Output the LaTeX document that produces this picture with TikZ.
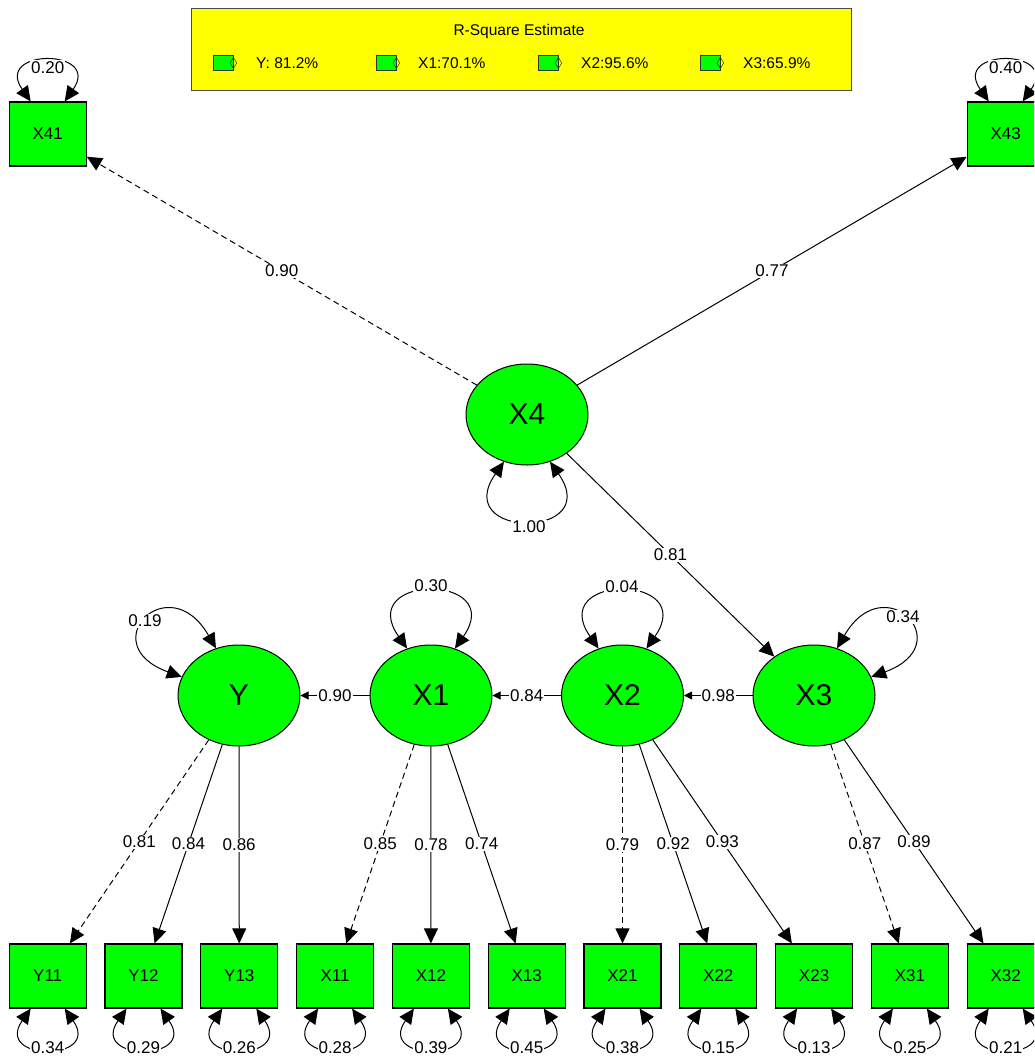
\documentclass[tikz,border=0pt]{standalone}
\usepackage{fontspec}
\setmainfont{Liberation Sans}
\usetikzlibrary{arrows.meta,shapes.geometric}
\definecolor{nodegreen}{RGB}{0,255,0}
\definecolor{legendyellow}{RGB}{255,255,0}

\begin{document}
\begin{tikzpicture}[x=1pt,y=-1pt,
  manifest/.style={draw=black, line width=1.2pt, fill=nodegreen,
    minimum width=77pt, minimum height=64pt, inner sep=0pt,
    font=\fontsize{17}{19}\selectfont},
  latent/.style={ellipse, draw=black, line width=1pt, fill=nodegreen,
    minimum width=122pt, minimum height=101pt, inner sep=0pt,
    font=\fontsize{30}{32}\selectfont},
  bigtip/.style={-{Triangle[length=15pt,width=14pt]}},
  loading/.style={line width=1pt, bigtip},
  fixedload/.style={line width=1pt, bigtip, dash pattern=on 6pt off 4pt},
  regress/.style={line width=1pt, -{Triangle[length=8pt,width=8pt]}},
  varloop/.style={line width=1pt,
    {Triangle[length=15pt,width=14pt]}-{Triangle[length=15pt,width=14pt]}},
  est/.style={fill=white, inner sep=1pt, text=black,
    font=\fontsize{17}{19}\selectfont},
  legtext/.style={anchor=west, inner sep=0pt, font=\fontsize{15.5}{17}\selectfont},
  legkey/.style={draw=black!80, line width=0.8pt, fill=nodegreen,
    minimum width=20pt, minimum height=15pt, inner sep=0pt},
  legmark/.style={diamond, draw=black!80, line width=0.5pt,
    minimum width=7pt, minimum height=11pt, inner sep=0pt}
]
\useasboundingbox (0,0) rectangle (1034,1057);
\clip (0,0) rectangle (1034,1057);

% ---------- legend ----------
\node[draw=black!70, line width=0.8pt, fill=legendyellow, minimum width=660pt,
      minimum height=82pt, inner sep=0pt] (legend) at (521,49) {};
\node[font=\fontsize{15.5}{17}\selectfont, inner sep=0pt] (legtitle) at (519,31) {R-Square Estimate};
\node[legkey] (kY)  at (223,63) {};
\node[legkey] (kX1) at (386,63) {};
\node[legkey] (kX2) at (548,63) {};
\node[legkey] (kX3) at (710,63) {};
\node[legmark] (mY)  at (kY.east)  {};
\node[legmark] (mX1) at (kX1.east) {};
\node[legmark] (mX2) at (kX2.east) {};
\node[legmark] (mX3) at (kX3.east) {};
\node[legtext] (tY)  at (256,63) {Y: 81.2\%};
\node[legtext] (tX1) at (418,63) {X1:70.1\%};
\node[legtext] (tX2) at (581,63) {X2:95.6\%};
\node[legtext] (tX3) at (743,63) {X3:65.9\%};

% ---------- latent variables ----------
\node[latent] (X4) at (527,414.5) {X4};
\node[latent] (Y)  at (239,695.5) {Y};
\node[latent] (X1) at (431,695.5) {X1};
\node[latent] (X2) at (622.5,695.5) {X2};
\node[latent] (X3) at (814,695.5) {X3};

% ---------- indicators ----------
\node[manifest] (X41) at (47.7,134) {X41};
\node[manifest] (X43) at (1005.7,134) {X43};
\node[manifest] (Y11) at (47.7,976) {Y11};
\node[manifest] (Y12) at (143.5,976) {Y12};
\node[manifest] (Y13) at (239.3,976) {Y13};
\node[manifest] (X11) at (335.1,976) {X11};
\node[manifest] (X12) at (430.9,976) {X12};
\node[manifest] (X13) at (526.7,976) {X13};
\node[manifest] (X21) at (622.5,976) {X21};
\node[manifest] (X22) at (718.3,976) {X22};
\node[manifest] (X23) at (814.1,976) {X23};
\node[manifest] (X31) at (909.9,976) {X31};
\node[manifest] (X32) at (1005.7,976) {X32};

% ---------- loadings of X4 ----------
\draw[fixedload] (X4) -- node[est] {0.90} (X41);
\draw[loading]   (X4) -- node[est] {0.77} (X43);
\draw[loading]   (X4) -- node[est] {0.81} (X3);

% ---------- structural paths ----------
\draw[regress] (X1) -- node[est] {0.90} (Y);
\draw[regress] (X2) -- node[est] {0.84} (X1);
\draw[regress] (X3) -- node[est] {0.98} (X2);

% ---------- measurement loadings ----------
\draw[fixedload] (Y)  -- node[est] {0.81} (Y11);
\draw[loading]   (Y)  -- node[est] {0.84} (Y12);
\draw[loading]   (Y)  -- node[est] {0.86} (Y13);
\draw[fixedload] (X1) -- node[est] {0.85} (X11);
\draw[loading]   (X1) -- node[est] {0.78} (X12);
\draw[loading]   (X1) -- node[est] {0.74} (X13);
\draw[fixedload] (X2) -- node[est] {0.79} (X21);
\draw[loading]   (X2) -- node[est] {0.92} (X22);
\draw[loading]   (X2) -- node[est] {0.93} (X23);
\draw[fixedload] (X3) -- node[est] {0.87} (X31);
\draw[loading]   (X3) -- node[est] {0.89} (X32);

% ---------- variances of the latent variables ----------
\draw[varloop] (X4.244) .. controls +(235:95pt) and +(305:95pt) .. (X4.296);
\node[est] (vX4) at (529,527) {1.00};
\draw[varloop] (Y.162) .. controls +(160:95pt) and +(120:95pt) .. (Y.116);
\node[est] (vY) at (145,621) {0.19};
\draw[varloop] (X1.117) .. controls +(125:92pt) and +(55:92pt) .. (X1.63);
\node[est] (vX1) at (431,586) {0.30};
\draw[varloop] (X2.117) .. controls +(125:92pt) and +(55:92pt) .. (X2.63);
\node[est] (vX2) at (622,587) {0.04};
\draw[varloop] (X3.64) .. controls +(60:95pt) and +(20:95pt) .. (X3.18);
\node[est] (vX3) at (903,617) {0.34};

% ---------- residual variances of the indicators ----------
\foreach \n/\v in {X41/0.20, X43/0.40}{
  \draw[varloop] ([xshift=-17pt]\n.north) .. controls +(125:65pt) and +(55:65pt) .. ([xshift=17pt]\n.north);
  \node[est] (r\n) at ([yshift=34pt]\n.north) {\v};
}
\foreach \n/\v in {Y11/0.34, Y12/0.29, Y13/0.26, X11/0.28, X12/0.39, X13/0.45,
                  X21/0.38, X22/0.15, X23/0.13, X31/0.25, X32/0.21}{
  \draw[varloop] ([xshift=-17pt]\n.south) .. controls +(235:65pt) and +(305:65pt) .. ([xshift=17pt]\n.south);
  \node[est] (r\n) at ([yshift=-39pt]\n.south) {\v};
}
\end{tikzpicture}
\end{document}
